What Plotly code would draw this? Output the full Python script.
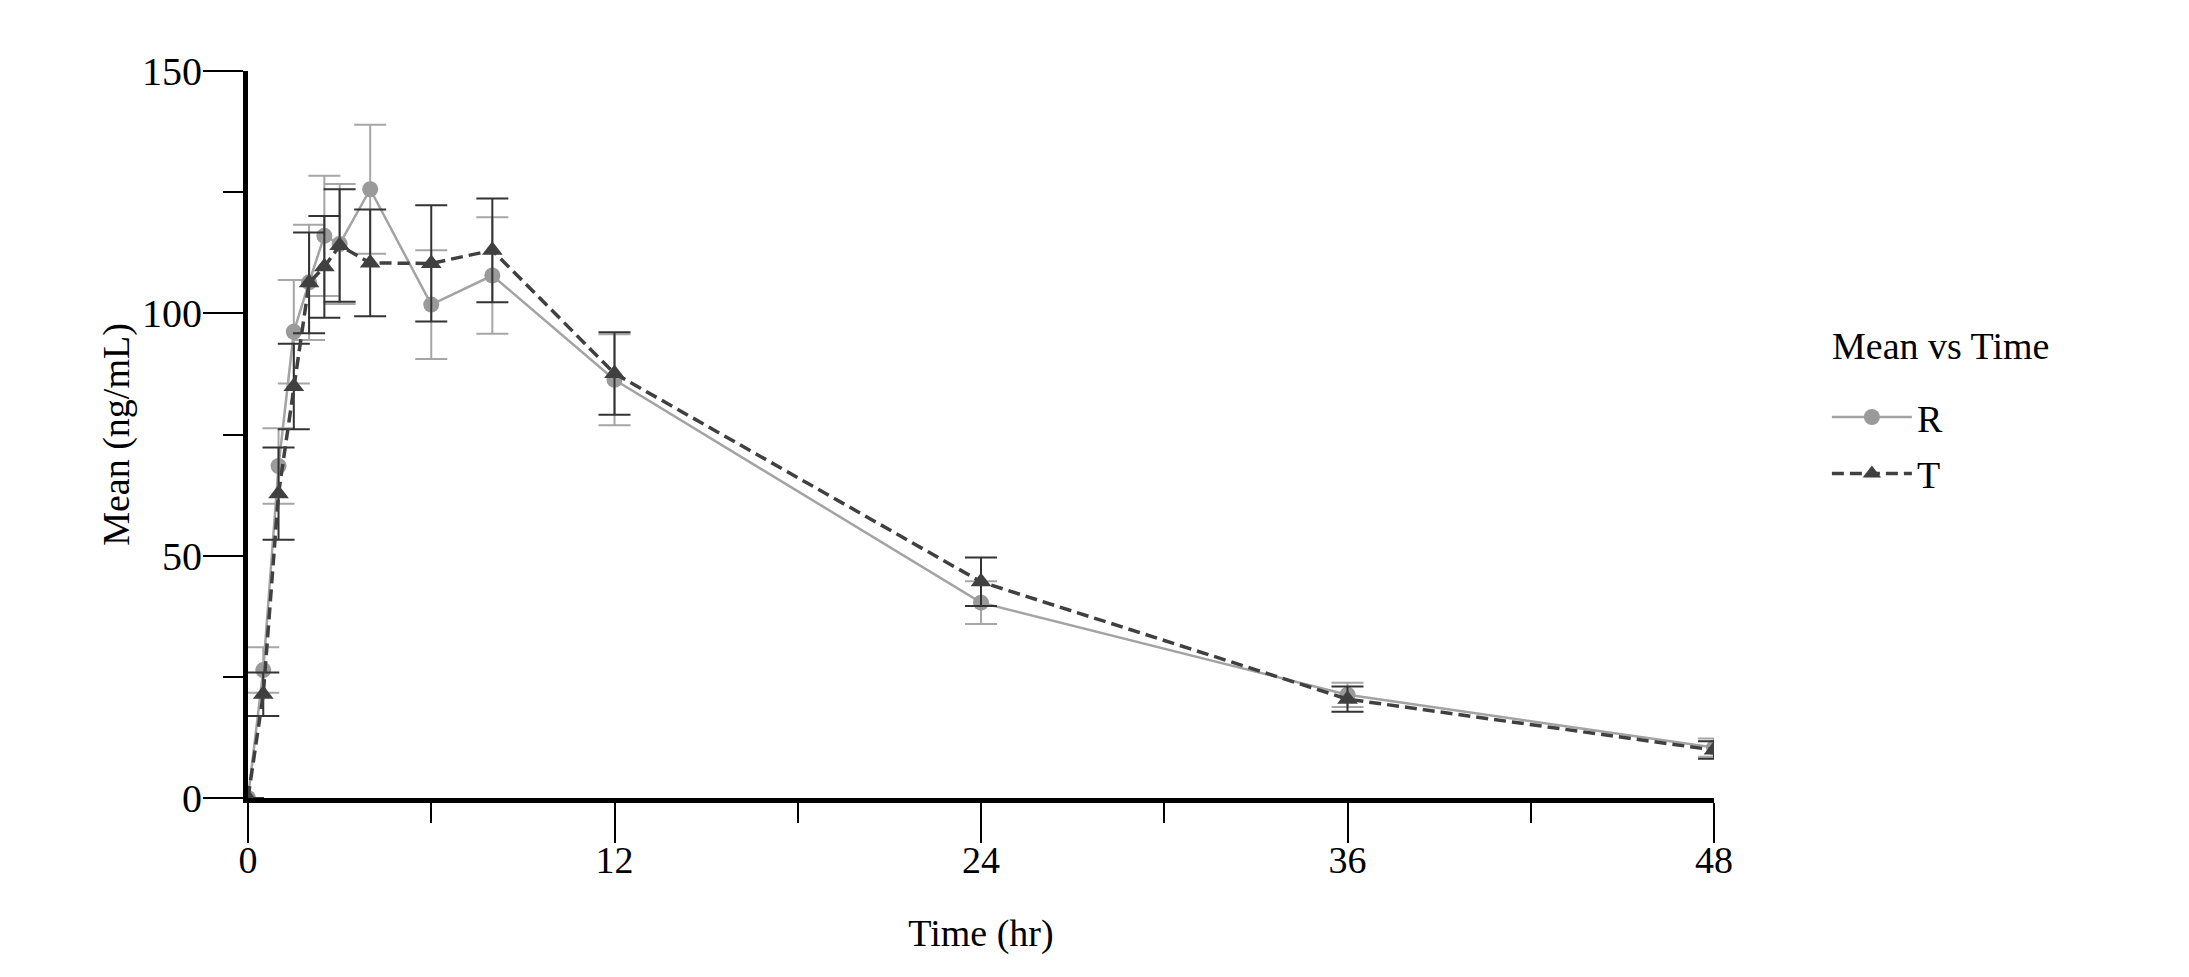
import plotly.graph_objects as go

time_hr = [0, 0.5, 1, 1.5, 2, 2.5, 3, 4, 6, 8, 12, 24, 36, 48]
r_mean = [0, 26.4, 68.5, 96.2, 106.4, 116.0, 114.3, 125.6, 101.8, 107.8, 86.3, 40.3, 21.3, 10.4]
r_sd = [None, 4.7, 7.8, 10.7, 11.9, 12.4, 12.4, 13.3, 11.2, 12.0, 9.4, 4.4, 2.5, 1.9]
t_mean = [0, 21.4, 62.8, 84.9, 106.3, 109.6, 114.0, 110.4, 110.3, 113.0, 87.6, 44.6, 20.4, 9.9]
t_sd = [None, 4.5, 9.5, 8.8, 10.4, 10.5, 11.6, 11.0, 12.0, 10.7, 8.5, 5.0, 2.6, 1.8]

x_ticks = [0, 12, 24, 36, 48]
y_ticks = [0, 50, 100, 150]

FONT = "Liberation Serif"
R_COLOR = "#9a9a9a"
T_COLOR = "#404040"

fig = go.Figure()
fig.add_trace(go.Scatter(
    x=time_hr, y=r_mean, name="R", mode="lines+markers", legendgroup="R",
    line=dict(color="#a3a3a3", width=2.5),
    marker=dict(symbol="circle", size=16, color=R_COLOR),
    error_y=dict(type="data", array=r_sd, visible=True, color="#a6a6a6", thickness=2, width=16),
))
fig.add_trace(go.Scatter(
    x=time_hr, y=t_mean, name="T", mode="lines+markers", legendgroup="T",
    line=dict(color=T_COLOR, width=3.5, dash="12px,6px"),
    marker=dict(symbol="triangle-up", size=18, color=T_COLOR),
    error_y=dict(type="data", array=t_sd, visible=True, color="#333333", thickness=2, width=16),
))

fig.update_layout(
    width=2181, height=969,
    margin=dict(l=240, r=475, t=63, b=179),
    paper_bgcolor="white", plot_bgcolor="white",
    font=dict(family=FONT, size=38, color="black"),
    showlegend=True,
    legend=dict(
        font=dict(family=FONT, size=38),
        x=1.077, xanchor="left", y=0.567, yanchor="top",
        itemwidth=80, bgcolor="rgba(0,0,0,0)",
        traceorder="grouped", tracegroupgap=4,
    ),
    annotations=[dict(
        text="Mean vs Time", xref="paper", yref="paper",
        x=1.079, y=0.622, xanchor="left", yanchor="middle",
        showarrow=False, font=dict(family=FONT, size=38, color="black"),
    )],
    xaxis=dict(
        range=[0, 48], tickvals=x_ticks, ticktext=[str(v) for v in x_ticks],
        showline=True, linecolor="black", linewidth=5,
        ticks="outside", ticklen=40, tickwidth=2, tickcolor="black",
        minor=dict(dtick=6, tick0=0, ticks="outside", ticklen=20, tickwidth=2, tickcolor="black"),
        showgrid=False, zeroline=False,
        tickfont=dict(family=FONT, size=38),
        ticklabelstandoff=-16,
        title=dict(text="Time (hr)", font=dict(family=FONT, size=38), standoff=41),
    ),
    yaxis=dict(
        range=[0, 150], tickvals=y_ticks, ticktext=[str(v) for v in y_ticks],
        showline=True, linecolor="black", linewidth=5,
        ticks="outside", ticklen=40, tickwidth=2, tickcolor="black",
        minor=dict(dtick=25, tick0=0, ticks="outside", ticklen=20, tickwidth=2, tickcolor="black"),
        showgrid=False, zeroline=False,
        tickfont=dict(family=FONT, size=40),
        ticklabelstandoff=-7,
        title=dict(text="Mean (ng/mL)", font=dict(family=FONT, size=38), standoff=2),
    ),
)

fig.write_html("out.html")
